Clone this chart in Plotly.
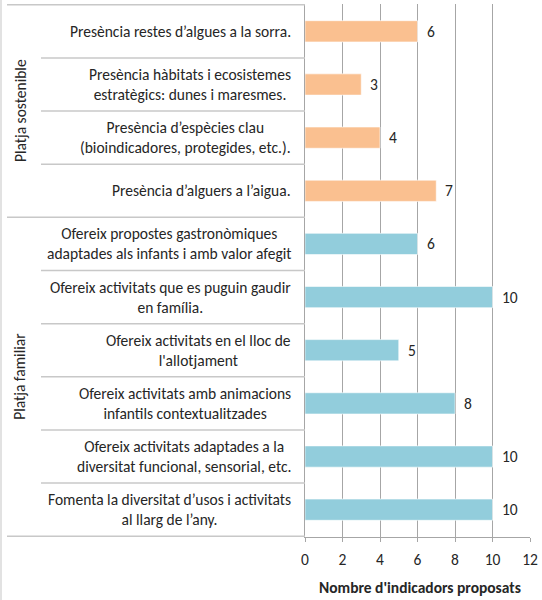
import plotly.graph_objects as go

# ---- data ----
categories = [
    "Presència restes d’algues a la sorra.",
    "Presència hàbitats i ecosistemes<br>estratègics: dunes i maresmes.",
    "Presència d’espècies clau<br>(bioindicadores, protegides, etc.).",
    "Presència d’alguers a l’aigua.",
    "Ofereix propostes gastronòmiques<br>adaptades als infants i amb valor afegit",
    "Ofereix activitats que es puguin gaudir<br>en família.",
    "Ofereix activitats en el lloc de<br>l'allotjament",
    "Ofereix activitats amb animacions<br>infantils contextualitzades",
    "Ofereix activitats adaptades a la<br>diversitat funcional, sensorial, etc.",
    "Fomenta la diversitat d’usos i activitats<br>al llarg de l’any.",
]
values = [6, 3, 4, 7, 6, 10, 5, 8, 10, 10]
groups = ["Platja sostenible"] * 4 + ["Platja familiar"] * 6
group_names = ["Platja sostenible", "Platja familiar"]
group_colors = {"Platja sostenible": "#FAC090", "Platja familiar": "#92CDDC"}
x_ticks = [0, 2, 4, 6, 8, 10, 12]
x_title = "Nombre d'indicadors proposats"

W, H = 542, 600
FONT = "Carlito, Calibri, Lato, sans-serif"
TXT = "#262626"
GRID = "#A6A6A6"
SEP = "#C8C8C8"
FS = 15.5

ML, MR, MT, MB = 0, 0, 4, 63
plot_h = H - MT - MB


def px_x(p):
    return p / W


def px_y(p):
    return (H - MB - p) / plot_h


fig = go.Figure()
fig.add_trace(go.Bar(
    y=categories,
    x=values,
    orientation="h",
    width=0.4,
    marker=dict(color=[group_colors[g] for g in groups],
                line=dict(color="rgba(255,255,255,0.6)", width=1)),
    hoverinfo="x+y",
))

annotations = []
# category labels
for c in categories:
    annotations.append(dict(
        x=px_x(293), xref="paper", y=c, yref="y",
        text=c, showarrow=False, xanchor="right", yanchor="middle",
        align="center", font=dict(family=FONT, size=FS, color=TXT),
    ))
# value labels
for c, v in zip(categories, values):
    annotations.append(dict(
        x=v, xref="x", y=c, yref="y", text=str(v), showarrow=False,
        xanchor="left", yanchor="middle", xshift=7,
        font=dict(family=FONT, size=FS, color=TXT),
    ))
# group labels
shapes = []
n = len(categories)
for g in group_names:
    idx = [i for i, gg in enumerate(groups) if gg == g]
    mid = (idx[0] + idx[-1]) / 2
    annotations.append(dict(
        x=px_x(20), xref="paper", y=mid, yref="y", text=g, showarrow=False,
        textangle=-90, xanchor="center", yanchor="middle",
        font=dict(family=FONT, size=FS, color=TXT),
    ))
# axis title
annotations.append(dict(
    x=px_x(420), xref="paper", y=px_y(587), yref="paper", text="<b>" + x_title + "</b>",
    showarrow=False, xanchor="center", yanchor="middle",
    font=dict(family=FONT, size=FS, color=TXT),
))

# separators
for i in range(n + 1):
    yv = i - 0.5
    is_group_edge = (i == 0) or (i == n) or (groups[i - 1] != groups[i])
    x0 = px_x(7) if is_group_edge else px_x(41)
    shapes.append(dict(type="line", xref="paper", yref="y", x0=x0, x1=px_x(305),
                       y0=yv, y1=yv, line=dict(color=SEP, width=1.5)))
# outer left border
shapes.append(dict(type="line", xref="paper", yref="paper", x0=px_x(1), x1=px_x(1),
                   y0=px_y(600), y1=px_y(0), line=dict(color="#D9D9D9", width=1.5)))

fig.update_layout(
    width=W, height=H,
    margin=dict(l=ML, r=MR, t=MT, b=MB, autoexpand=False),
    paper_bgcolor="white", plot_bgcolor="white",
    showlegend=False,
    annotations=annotations,
    shapes=shapes,
    xaxis=dict(
        domain=[px_x(305), px_x(530)],
        range=[0, 12], tickvals=x_ticks, ticktext=[str(t) for t in x_ticks],
        showgrid=True, gridcolor=GRID, gridwidth=1,
        zeroline=False, showline=True, linecolor=GRID, linewidth=1,
        ticks="outside", ticklen=4, tickcolor=GRID,
        ticklabelstandoff=4,
        tickfont=dict(family=FONT, size=FS, color=TXT),
        automargin=False, fixedrange=True,
    ),
    yaxis=dict(
        categoryorder="array", categoryarray=categories,
        autorange="reversed",
        showticklabels=False, showgrid=False, zeroline=False,
        showline=True, linecolor=GRID, linewidth=1, ticks="",
        automargin=False, fixedrange=True,
    ),
)

fig.write_html(
    "out.html",
    post_script="document.body.style.margin='0';document.body.style.padding='0';",
    config={"displayModeBar": False},
)
